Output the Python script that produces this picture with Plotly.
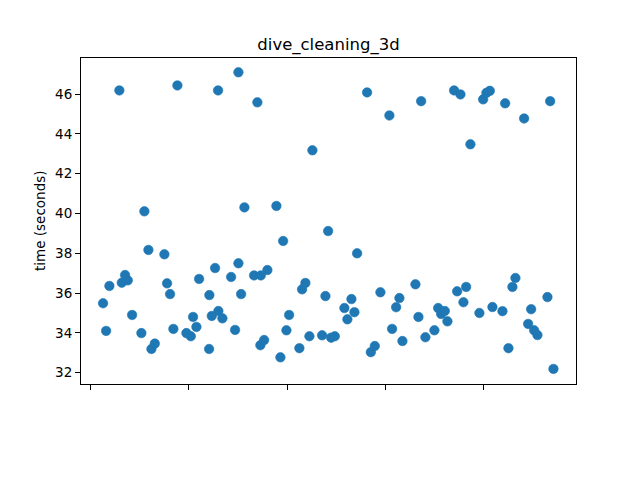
import plotly.graph_objects as go

title_text = "dive_cleaning_3d"
y_label = "time (seconds)"

x_vals = [2.54, 3.16, 3.83, 5.86, 6.35, 7.02, 7.57, 8.45, 10.34, 10.95,
          11.77, 12.38, 13.07, 15.02, 15.57, 16.18, 16.85, 17.67, 19.50, 20.40,
          20.86, 21.54, 22.09, 24.12, 24.18, 24.67, 25.34, 25.95, 26.01, 26.83,
          28.60, 29.41, 30.09, 30.09, 30.64, 31.31, 33.28, 33.95, 34.56, 34.65,
          35.32, 35.99, 37.82, 38.64, 39.19, 39.86, 40.41, 42.50, 43.05, 43.72,
          44.54, 45.15, 47.12, 47.80, 48.35, 48.96, 49.71, 51.66, 52.27, 53.09,
          53.70, 54.25, 56.28, 57.04, 57.85, 58.99, 60.82, 61.37, 62.19, 62.86,
          63.47, 66.12, 66.73, 67.28, 68.15, 69.98, 70.74, 71.35, 72.10, 72.63,
          73.99, 74.61, 75.28, 75.89, 76.44, 77.31, 79.14, 79.90, 80.57, 81.26,
          81.79, 83.83, 84.38, 85.05, 85.86, 86.47, 88.24, 89.06, 89.67, 90.28,
          90.95, 92.99, 93.54, 94.21]

times = [35.49, 34.10, 36.36, 46.19, 36.52, 36.91, 36.64, 34.90, 33.99, 40.11,
         38.17, 33.19, 33.46, 37.95, 36.49, 35.95, 34.20, 46.44, 33.99, 33.83,
         34.80, 34.30, 36.71, 33.19, 35.90, 34.85, 37.26, 46.19, 35.10, 34.73,
         36.81, 34.15, 47.10, 37.50, 35.95, 40.31, 36.89, 45.59, 33.38, 36.89,
         33.64, 37.16, 40.38, 32.77, 38.62, 34.13, 34.90, 33.23, 36.19, 36.51,
         33.83, 43.18, 33.88, 35.85, 39.12, 33.76, 33.83, 35.25, 34.68, 35.70,
         35.04, 38.00, 46.09, 33.03, 33.34, 36.04, 44.93, 34.20, 35.29, 35.75,
         33.59, 36.44, 34.80, 45.65, 33.78, 34.13, 35.25, 34.95, 35.10, 34.58,
         46.19, 36.09, 45.99, 35.54, 36.31, 43.48, 35.00, 45.74, 46.07, 46.17,
         35.30, 35.09, 45.54, 33.23, 36.31, 36.76, 44.78, 34.45, 35.19, 34.13,
         33.89, 35.80, 45.65, 32.19]

x_ticks = [0, 20, 40, 60, 80]
y_ticks = [32, 34, 36, 38, 40, 42, 44, 46]

fig = go.Figure()
fig.add_trace(go.Scatter(
    x=x_vals, y=times, mode="markers",
    marker=dict(color="#1f77b4", size=9.5, line=dict(width=0.6, color="#1f77b4")),
    showlegend=False,
))

font_family = "DejaVu Sans, Liberation Sans, sans-serif"

fig.update_layout(
    width=632, height=472,
    margin=dict(l=73, r=64, t=50, b=96, pad=0),
    paper_bgcolor="white", plot_bgcolor="white",
    font=dict(family=font_family, size=13.5, color="black"),
    title=dict(text=title_text, x=0.5, xref="paper", xanchor="center",
               y=1 - 36 / 472, yref="container", yanchor="middle",
               font=dict(size=16.5, color="black", family=font_family)),
    xaxis=dict(range=[-1.95, 98.8], tickvals=x_ticks, showticklabels=False,
               ticks="outside", ticklen=5, tickwidth=1.1, tickcolor="black",
               showgrid=False, zeroline=False, showline=True, linecolor="black",
               linewidth=1.1, mirror=True),
    yaxis=dict(range=[31.43, 47.82], tickvals=y_ticks, ticks="outside",
               ticklen=5, tickwidth=1.1, tickcolor="black",
               showgrid=False, zeroline=False, showline=True, linecolor="black",
               linewidth=1.1, mirror=True, tickfont=dict(size=13.5)),
    annotations=[dict(text=y_label, textangle=-90, x=(40 - 81) / 495, xref="paper",
                      y=0.5, yref="paper", xanchor="center", yanchor="middle",
                      showarrow=False, font=dict(size=13.5, color="black"))],
)

fig.write_html("out.html")
